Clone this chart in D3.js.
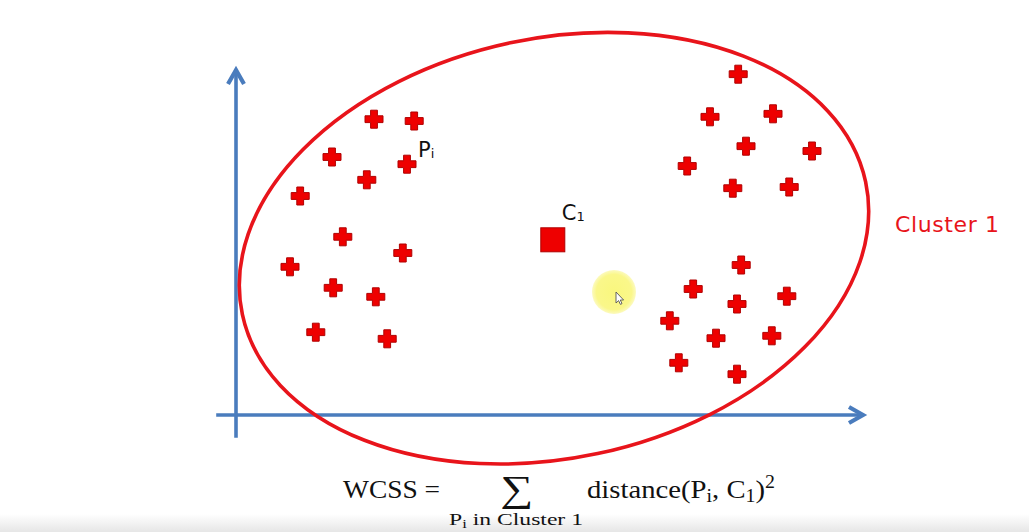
<!DOCTYPE html>
<html>
<head>
<meta charset="utf-8">
<script src="https://cdn.jsdelivr.net/npm/d3@7"></script>
<style>
html,body{margin:0;padding:0;background:#fff;}
svg{display:block;}
</style>
</head>
<body>
<div id="chart"></div>
<script>
// ---- data (axis units) ----
const leftX  = [2.30, 2.97, 1.60, 2.85, 2.18, 1.07, 1.78, 2.78, 0.90, 1.62, 2.33, 1.33, 2.52];
const leftY  = [4.93, 4.90, 4.30, 4.18, 3.92, 3.65, 2.97, 2.70, 2.47, 2.12, 1.97, 1.38, 1.27];
const topRightX = [8.37, 7.90, 8.95, 8.50, 9.60, 7.52, 8.28, 9.22];
const topRightY = [5.68, 4.97, 5.02, 4.48, 4.40, 4.15, 3.78, 3.80];
const botRightX = [8.42, 7.62, 9.18, 8.35, 7.23, 8.00, 8.93, 7.38, 8.35];
const botRightY = [2.50, 2.10, 1.98, 1.85, 1.57, 1.28, 1.32, 0.87, 0.68];
const centroid = [5.28, 2.92];
const centroidLabel = "C";
const centroidSub = "1";
const pointLabel = "P";
const pointSub = "i";
const labelledPoint = 3; // index in left cluster
const clusterName = "Cluster 1";
const clusterEllipse = {cx: 5.30, cy: 2.78, rx: 5.31, ry: 3.50, angle: -12};
const xAxisExtent = [-0.33, 10.45];
const yAxisExtent = [-0.38, 5.75];
const cursorPos = [6.30, 2.05];

const W = 1029, H = 532;
const x = d3.scaleLinear().domain([0, 10]).range([236, 836]);
const y = d3.scaleLinear().domain([0, 6]).range([415, 55]);

const svg = d3.select("#chart").append("svg").attr("width", W).attr("height", H);
const defs = svg.append("defs");

// bottom shade
const g1 = defs.append("linearGradient").attr("id","bshade").attr("x1",0).attr("y1",0).attr("x2",0).attr("y2",1);
g1.append("stop").attr("offset","0%").attr("stop-color","#ffffff");
g1.append("stop").attr("offset","100%").attr("stop-color","#e6e6e6");
svg.append("rect").attr("x",0).attr("y",514).attr("width",W).attr("height",18).attr("fill","url(#bshade)");

// cursor highlight
const rg = defs.append("radialGradient").attr("id","hl");
rg.append("stop").attr("offset","0%").attr("stop-color","#f9f77e");
rg.append("stop").attr("offset","80%").attr("stop-color","#faf78a");
rg.append("stop").attr("offset","100%").attr("stop-color","#fcfac0");
svg.append("circle").attr("cx", x(cursorPos[0])).attr("cy", y(cursorPos[1])).attr("r", 22).attr("fill","url(#hl)");
// cursor arrow
{
  const cx0 = x(cursorPos[0]) + 2, cy0 = y(cursorPos[1]) + 0;
  const p = d3.path();
  p.moveTo(cx0, cy0); p.lineTo(cx0, cy0+11); p.lineTo(cx0+2.6, cy0+8.6); p.lineTo(cx0+4.4, cy0+12.4);
  p.lineTo(cx0+6, cy0+11.6); p.lineTo(cx0+4.3, cy0+8); p.lineTo(cx0+7.6, cy0+8); p.closePath();
  svg.append("path").attr("d", p.toString()).attr("fill","#ffffff").attr("stroke","#555").attr("stroke-width",0.9);
}

// axes
const blue = "#4a7cbd";
const axisG = svg.append("g").attr("stroke", blue).attr("stroke-width", 3.6).attr("fill","none");
axisG.append("line").attr("x1", x(xAxisExtent[0])).attr("x2", x(xAxisExtent[1]) - 1)
  .attr("y1", y(0)).attr("y2", y(0));
axisG.append("line").attr("x1", x(0)).attr("x2", x(0))
  .attr("y1", y(yAxisExtent[0])).attr("y2", y(yAxisExtent[1]) + 1);
// arrowheads
const xt = x(xAxisExtent[1]), yt = y(yAxisExtent[1]);
axisG.append("polyline").attr("points", `${xt-14},${y(0)-8} ${xt},${y(0)} ${xt-14},${y(0)+8}`)
  .attr("stroke-linejoin","miter").attr("stroke-linecap","butt").attr("stroke-width",4.2);
axisG.append("polyline").attr("points", `${x(0)-8},${yt+14} ${x(0)},${yt} ${x(0)+8},${yt+14}`)
  .attr("stroke-linejoin","miter").attr("stroke-linecap","butt").attr("stroke-width",4.2);

// ellipse
const pxPerUnitX = x(1) - x(0), pxPerUnitY = y(0) - y(1);
svg.append("ellipse")
  .attr("cx", 0).attr("cy", 0)
  .attr("rx", clusterEllipse.rx * pxPerUnitX).attr("ry", clusterEllipse.ry * pxPerUnitY)
  .attr("transform", `translate(${x(clusterEllipse.cx)},${y(clusterEllipse.cy)}) rotate(${clusterEllipse.angle})`)
  .attr("fill","none").attr("stroke","#e8141b").attr("stroke-width",3.6);

// points
const pts = [];
leftX.forEach((v,i)=>pts.push({x:v, y:leftY[i]}));
topRightX.forEach((v,i)=>pts.push({x:v, y:topRightY[i]}));
botRightX.forEach((v,i)=>pts.push({x:v, y:botRightY[i]}));

const s = 9, t = 3.4;
const crossPath = `M${-t},${-s}H${t}V${-t}H${s}V${t}H${t}V${s}H${-t}V${t}H${-s}V${-t}H${-t}Z`;
svg.append("g").selectAll("path").data(pts).join("path")
  .attr("d", crossPath)
  .attr("transform", d => `translate(${x(d.x)},${y(d.y)})`)
  .attr("fill", "#ee0000").attr("stroke", "#b00000").attr("stroke-width", 1);

// centroid
svg.append("rect")
  .attr("x", x(centroid[0]) - 12).attr("y", y(centroid[1]) - 12)
  .attr("width", 24).attr("height", 24)
  .attr("fill", "#ee0000").attr("stroke", "#b00000").attr("stroke-width", 1);

// labels
const sans = "'DejaVu Sans', Verdana, sans-serif";
const cl = svg.append("text").attr("x", x(centroid[0]) + 9).attr("y", y(centroid[1]) - 20)
  .attr("font-family", sans).attr("font-size", 21).attr("fill", "#111");
cl.append("tspan").text(centroidLabel);
cl.append("tspan").attr("font-size", 13).attr("dy", 1).text(centroidSub);

const lp = {x: leftX[labelledPoint], y: leftY[labelledPoint]};
const pl = svg.append("text").attr("x", x(lp.x) + 11).attr("y", y(lp.y) - 7)
  .attr("font-family", sans).attr("font-size", 21).attr("fill", "#111");
pl.append("tspan").text(pointLabel);
pl.append("tspan").attr("font-size", 13).attr("dy", 1).text(pointSub);

svg.append("text").attr("x", 895).attr("y", 232)
  .attr("font-family", sans).attr("font-size", 22).attr("letter-spacing", 0.6)
  .attr("fill", "#e8141b").text(clusterName);

// formula
const serif = "'Liberation Serif', 'Times New Roman', serif";
const fg = svg.append("g").attr("font-family", serif).attr("fill", "#111");
fg.append("text").attr("x", 343).attr("y", 498).attr("font-size", 26)
  .attr("textLength", 97).attr("lengthAdjust", "spacingAndGlyphs").text("WCSS =");
fg.append("text").attr("x", 500).attr("y", 501).attr("font-size", 37)
  .attr("textLength", 33).attr("lengthAdjust", "spacingAndGlyphs").text("∑");
const f2 = fg.append("text").attr("x", 587).attr("y", 498).attr("font-size", 26)
  .attr("textLength", 188).attr("lengthAdjust", "spacingAndGlyphs");
f2.append("tspan").text("distance(P");
f2.append("tspan").attr("font-size", 18).attr("dy", 4).text("i");
f2.append("tspan").attr("dy", -4).text(", C");
f2.append("tspan").attr("font-size", 18).attr("dy", 4).text("1");
f2.append("tspan").attr("dy", -4).text(")");
f2.append("tspan").attr("font-size", 18).attr("dy", -10).text("2");
const f3 = fg.append("text").attr("x", 449).attr("y", 525).attr("font-size", 17)
  .attr("textLength", 134).attr("lengthAdjust", "spacingAndGlyphs");
f3.append("tspan").text("P");
f3.append("tspan").attr("font-size", 12).attr("dy", 3).text("i");
f3.append("tspan").attr("dy", -3).text("  in Cluster 1");
</script>
</body>
</html>
